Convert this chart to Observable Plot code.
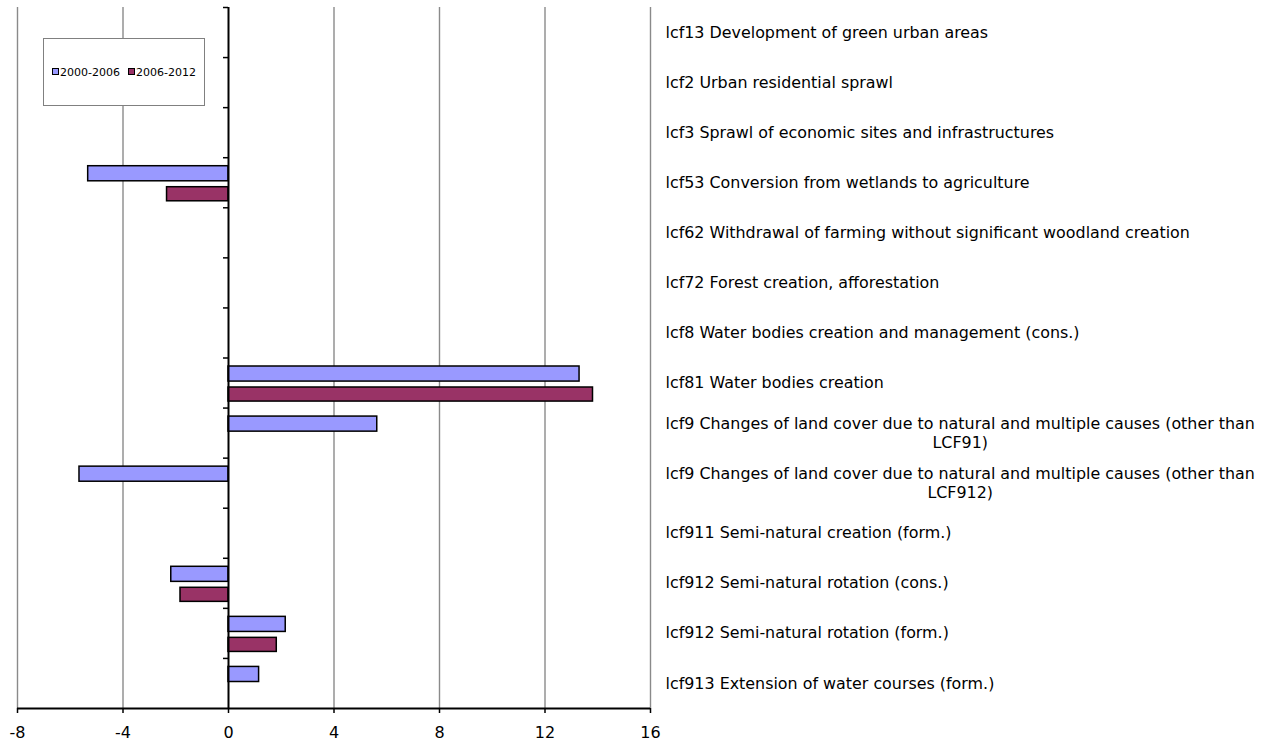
<!DOCTYPE html>
<html><head><meta charset="utf-8">
<script src="https://cdn.jsdelivr.net/npm/d3@7"></script>
<script src="https://cdn.jsdelivr.net/npm/@observablehq/plot@0.6"></script>
<style>
body{margin:0;background:#fff;}
#wrap{position:relative;width:1276px;height:746px;overflow:hidden;}
#legend{position:absolute;left:43px;top:38px;width:162px;height:68px;border:1px solid #808080;background:#fff;box-sizing:border-box;display:flex;align-items:center;justify-content:center;font:11px "DejaVu Sans",sans-serif;color:#000;white-space:nowrap;}
#legend .sw{display:inline-block;width:5px;height:5px;border:1px solid #000;margin-right:1px;vertical-align:middle;position:relative;top:-1px;}
#legend .it{margin:0 4px;}
</style></head><body><div id="wrap"></div>
<script>
const labelLine1 = [
  "lcf13 Development of green urban areas",
  "lcf2 Urban residential sprawl",
  "lcf3 Sprawl of economic sites and infrastructures",
  "lcf53 Conversion from wetlands to agriculture",
  "lcf62 Withdrawal of farming without significant woodland creation",
  "lcf72 Forest creation, afforestation",
  "lcf8 Water bodies creation and management (cons.)",
  "lcf81 Water bodies creation",
  "lcf9 Changes of land cover due to natural and multiple causes (other than",
  "lcf9 Changes of land cover due to natural and multiple causes (other than",
  "lcf911 Semi-natural creation (form.)",
  "lcf912 Semi-natural rotation (cons.)",
  "lcf912 Semi-natural rotation (form.)",
  "lcf913 Extension of water courses (form.)"
];
const labelLine2 = ["", "", "", "", "", "", "", "", "LCF91)", "LCF912)", "", "", "", ""];
const series = ["2000-2006", "2006-2012"];
const values2000_2006 = [0, 0, 0, -5.32, 0, 0, 0, 13.31, 5.64, -5.65, 0, -2.17, 2.17, 1.16];
const values2006_2012 = [0, 0, 0, -2.33, 0, 0, 0, 13.82, 0, 0, 0, -1.82, 1.83, 0];
const xTicks = [-8, -4, 0, 4, 8, 12, 16];
const colors = ["#9999FF", "#993366"];

const rows = labelLine1.map((l, i) => ({i, l1: l, l2: labelLine2[i], a: values2000_2006[i], b: values2006_2012[i]}));
const boundaries = d3.range(0, labelLine1.length);

const labelSize = 15.9;
const ctx = document.createElement("canvas").getContext("2d");
ctx.font = `${labelSize}px "DejaVu Sans"`;
const twoLine = rows.filter(d => d.l2);
const secondLineCenter = twoLine.length ? ctx.measureText(twoLine[0].l1).width / 2 : 0;

const chart = Plot.plot({
  width: 1276,
  height: 746,
  marginLeft: 17,
  marginRight: 626,
  marginTop: 7,
  marginBottom: 38,
  style: {fontFamily: '"DejaVu Sans", sans-serif', background: "#fff", overflow: "visible"},
  x: {domain: [-8, 16], ticks: xTicks},
  y: {domain: [0, labelLine1.length], reverse: true, axis: null},
  marks: [
    Plot.ruleX(xTicks.filter(t => t !== 0), {stroke: "#8a8a8a", strokeWidth: 1.4}),
    Plot.rect(rows.filter(d => d.a !== 0), {x1: 0, x2: "a", y1: "i", y2: d => d.i + 1, insetTop: 8.5, insetBottom: 26.5, fill: colors[0], stroke: "#000", strokeWidth: 1.5}),
    Plot.rect(rows.filter(d => d.b !== 0), {x1: 0, x2: "b", y1: "i", y2: d => d.i + 1, insetTop: 29.5, insetBottom: 6.5, fill: colors[1], stroke: "#000", strokeWidth: 1.5}),
    Plot.ruleX([0], {stroke: "#000", strokeWidth: 2}),
    Plot.ruleY(boundaries, {y: d => d, x1: 0, x2: 0, insetLeft: -5, stroke: "#000", strokeWidth: 1.5}),
    Plot.ruleY([labelLine1.length], {stroke: "#000", strokeWidth: 2}),
    Plot.axisX({ticks: xTicks, tickSize: 5, tickPadding: 13, fontSize: 16, stroke: "#000", strokeWidth: 1.5, tickFormat: d => String(d), fill: "#000"}),
    Plot.text(rows.filter(d => !d.l2), {y: d => d.i + 0.5, text: "l1", frameAnchor: "right", dx: 15, textAnchor: "start", fontSize: labelSize, fill: "#000"}),
    Plot.text(twoLine, {y: d => d.i + 0.5, text: "l1", frameAnchor: "right", dx: 15, dy: -9.5, textAnchor: "start", fontSize: labelSize, fill: "#000"}),
    Plot.text(twoLine, {y: d => d.i + 0.5, text: "l2", frameAnchor: "right", dx: 15 + secondLineCenter, dy: 9.5, textAnchor: "middle", fontSize: labelSize, fill: "#000"})
  ]
});

const wrap = document.getElementById("wrap");
wrap.appendChild(chart);
const legend = document.createElement("div");
legend.id = "legend";
legend.innerHTML = series.map((s, k) => `<span class="it"><span class="sw" style="background:${colors[k]}"></span>${s}</span>`).join("");
wrap.appendChild(legend);
</script>
</body></html>
